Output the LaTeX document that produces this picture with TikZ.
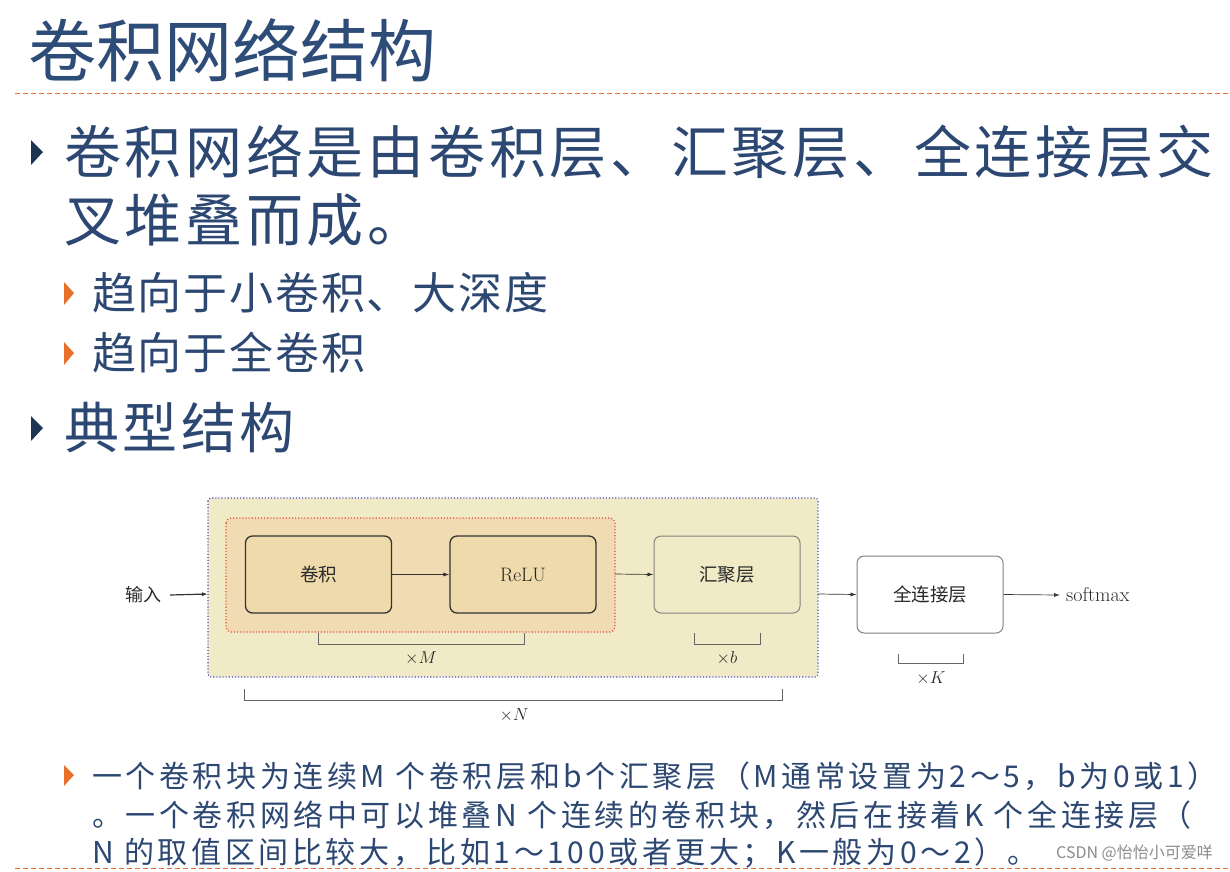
\documentclass[tikz,border=0pt]{standalone}
\usepackage{fontspec}
\usetikzlibrary{arrows.meta}
\newfontfamily\cjk{Noto Sans CJK SC}
\newfontfamily\cjkwide[LetterSpace=6.5]{Noto Sans CJK SC}
\newfontfamily\cjkmid[LetterSpace=4]{Noto Sans CJK SC}
\newfontfamily\cjksmall[LetterSpace=12]{Noto Sans CJK SC}
\definecolor{titleblue}{RGB}{46,76,120}
\definecolor{textblue}{RGB}{44,72,114}
\definecolor{navy}{RGB}{30,52,82}
\definecolor{accent}{RGB}{232,112,42}
\definecolor{outerfill}{RGB}{240,235,198}
\definecolor{innerfill}{RGB}{240,219,178}
\definecolor{convfill}{RGB}{239,218,172}
\definecolor{dotblue}{RGB}{70,70,200}
\definecolor{dotred}{RGB}{230,70,60}
\definecolor{diagtext}{RGB}{40,40,40}
\tikzset{
  bullettri/.style={fill=navy},
  subtri/.style={fill=accent},
  sepline/.style={draw=accent, line width=0.9pt, dash pattern=on 5pt off 3pt},
  outerbox/.style={fill=outerfill, draw=dotblue, line width=1.1pt, dotted, rounded corners=3pt},
  innerbox/.style={fill=innerfill, draw=dotred, line width=1.1pt, dotted, rounded corners=5pt},
  layerbox/.style={minimum width=146pt, minimum height=77pt, rounded corners=7pt, font=\cjk\fontsize{18.5}{22}\selectfont, text=diagtext},
  darkbox/.style={layerbox, fill=convfill, draw=black!80, line width=1.3pt},
  poolbox/.style={layerbox, fill=outerfill, draw=black!50, line width=1pt},
  fcbox/.style={layerbox, fill=white, draw=black!50, line width=1pt},
  flow/.style={-{Latex[length=6pt,width=4pt]}, draw=black!80, line width=0.7pt},
  brace/.style={draw=black!60, line width=0.9pt},
  mult/.style={font=\fontsize{18}{21}\selectfont, text=diagtext},
  bodytext/.style={anchor=west, text=textblue, inner sep=0},
}
\begin{document}
\begin{tikzpicture}[x=1pt,y=-1pt]
\useasboundingbox (0,0) rectangle (1230,871);
% title
\node[anchor=west, text=titleblue, font=\cjk\fontsize{68}{72}\selectfont, inner sep=0] (title) at (28,50) {卷积网络结构};
\draw[sepline] (15,93) -- (1230,93);
% bullets
\fill[bullettri] (31,140) -- (43,152) -- (31,165) -- cycle;
\node[bodytext, font=\cjkwide\fontsize{57}{60}\selectfont] (b1) at (64,152) {卷积网络是由卷积层、汇聚层、全连接层交};
\node[bodytext, font=\cjkwide\fontsize{57}{60}\selectfont] (b1b) at (64,220) {叉堆叠而成。};
\fill[subtri] (64,282) -- (74,293) -- (64,305) -- cycle;
\node[bodytext, font=\cjkmid\fontsize{44}{48}\selectfont] (s1) at (92,293) {趋向于小卷积、大深度};
\fill[subtri] (64,342) -- (74,353) -- (64,365) -- cycle;
\node[bodytext, font=\cjkmid\fontsize{44}{48}\selectfont] (s2) at (92,353) {趋向于全卷积};
\fill[bullettri] (31,416) -- (43,428) -- (31,441) -- cycle;
\node[bodytext, font=\cjkwide\fontsize{55}{60}\selectfont] (b2) at (64,428) {典型结构};
% diagram
\draw[outerbox] (208,498) rectangle (818,677);
\coordinate (outerR) at (818,594);
\coordinate (outerL) at (208,594);
\draw[innerbox] (226,518) rectangle (615,632);
\coordinate (innerR) at (615,574);
\node[darkbox] (conv) at (318.5,574.5) {卷积};
\node[darkbox, font=\fontsize{19.5}{22}\selectfont] (relu) at (523,574.5) {ReLU};
\node[poolbox] (pool) at (727,574.5) {汇聚层};
\node[fcbox] (fc) at (930,594.5) {全连接层};
\node[anchor=east, text=diagtext, font=\cjk\fontsize{18}{21}\selectfont, inner sep=0] (inp) at (162,595) {输入};
\node[anchor=west, text=diagtext, font=\fontsize{20}{23}\selectfont, inner sep=0] (soft) at (1066,595) {softmax};
\draw[flow, line width=1.2pt] ([xshift=8pt]inp.east) -- (outerL);
\draw[flow] (conv.east) -- (relu.west);
\draw[flow] (innerR) -- (pool.west);
\draw[flow] (outerR) -- (fc.west);
\draw[flow] (fc.east) -- ([xshift=-6pt]soft.west);
% brackets
\draw[brace] (318,633) -- (318,644) -- (524,644) -- (524,633);
\node[mult] (xm) at (421,658) {$\times M$};
\draw[brace] (694,633) -- (694,644) -- (760,644) -- (760,633);
\node[mult] (xb) at (727,658) {$\times b$};
\draw[brace] (898,654) -- (898,663) -- (963,663) -- (963,654);
\node[mult] (xk) at (931,678) {$\times K$};
\draw[brace] (244,689) -- (244,700) -- (782,700) -- (782,689);
\node[mult] (xn) at (514,715) {$\times N$};
% bottom text
\fill[subtri] (64,765) -- (74,775) -- (64,786) -- cycle;
\node[bodytext, font=\cjksmall\fontsize{30}{33}\selectfont] (t1) at (92,776) {一个卷积块为连续M 个卷积层和b个汇聚层（M通常设置为2～5，b为0或1）};
\node[bodytext, font=\cjksmall\fontsize{30}{33}\selectfont] (t2) at (92,815) {。一个卷积网络中可以堆叠N 个连续的卷积块，然后在接着K 个全连接层（};
\node[bodytext, font=\cjksmall\fontsize{30}{33}\selectfont] (t3) at (92,853) {N 的取值区间比较大，比如1～100或者更大；K一般为0～2）。};
\node[anchor=east, text=black!45, font=\cjk\fontsize{16}{18}\selectfont, inner sep=0, fill=white, inner xsep=2pt] (wm) at (1215,853) {CSDN @怡怡小可爱咩};
\draw[sepline] (15,868) -- (1230,868);
\end{tikzpicture}
\end{document}
